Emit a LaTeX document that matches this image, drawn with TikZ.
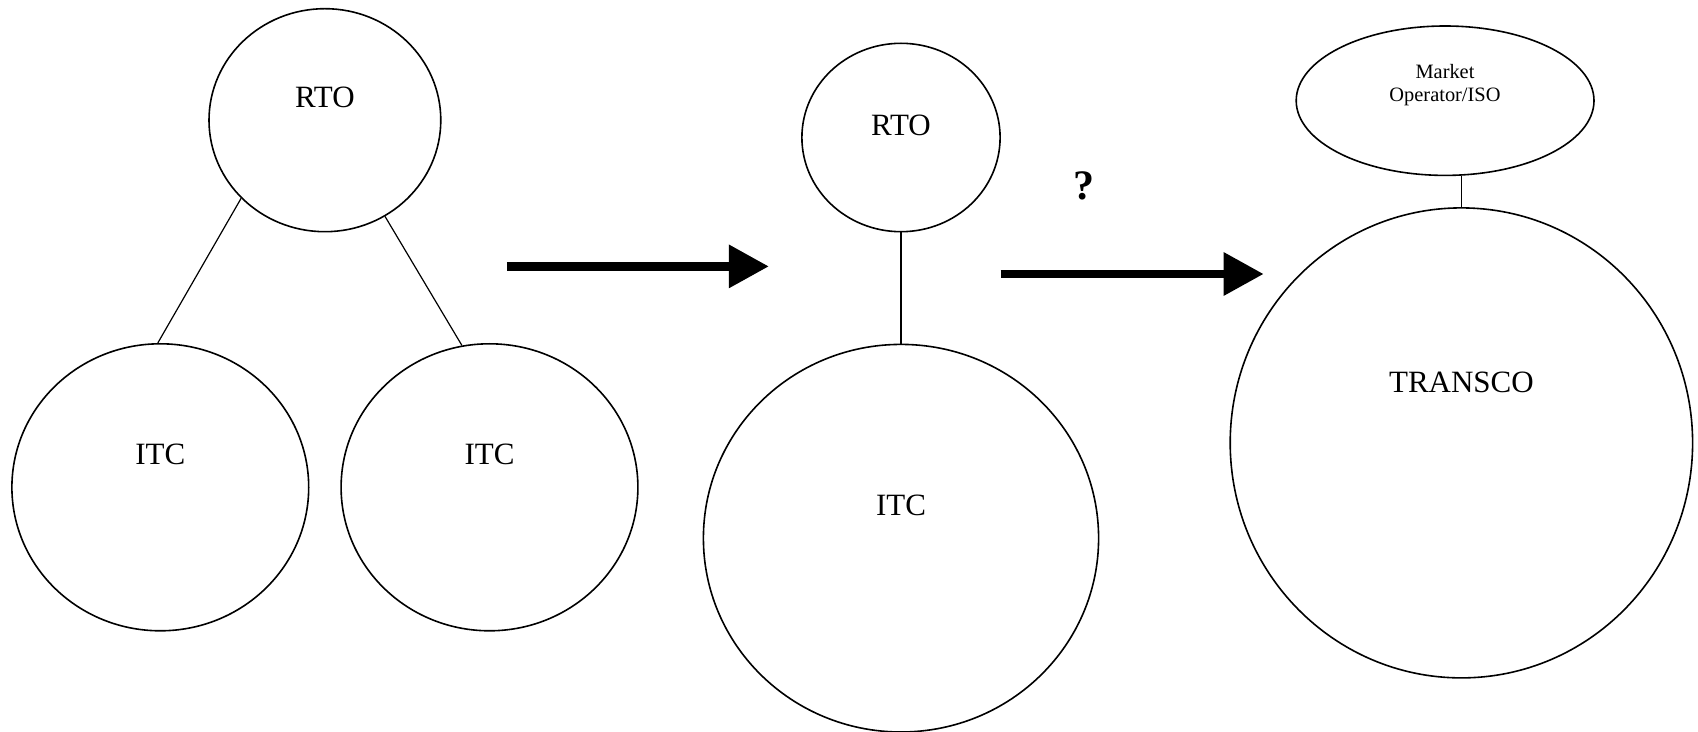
\documentclass[tikz,border=0pt]{standalone}
\usepackage{fontspec}
\setmainfont{Liberation Serif}
\usetikzlibrary{shapes.geometric,arrows.meta}
\begin{document}
\begin{tikzpicture}[x=0.5pt,y=-0.5pt,
  ell/.style={draw, ellipse, inner sep=0pt, line width=0.8pt},
  lbl/.style={inner sep=0pt, font=\fontsize{15.5}{18}\selectfont},
  conn/.style={line width=0.6pt},
  bigarrow/.style={line width=4.35pt, -{Triangle[length=20pt,width=20.6pt]}}]
\useasboundingbox (0,0) rectangle (1698,732);
% left group
\node[ell, minimum width=115.9pt, minimum height=111.5pt] (rto1) at (324.9,120.2) {};
\node[lbl] (rto1t) at (324.9,97.5) {RTO};
\node[ell, minimum width=148.4pt, minimum height=143.5pt] (itcl) at (160.3,487.3) {};
\node[lbl] (itclt) at (160.3,454.8) {ITC};
\node[ell, minimum width=148.4pt, minimum height=143.5pt] (itcr) at (489.5,487.3) {};
\node[lbl] (itcrt) at (489.5,454.8) {ITC};
\draw[conn] (rto1.223.5) -- (itcl.91);
\draw[conn] (rto1.302) -- (itcr.101);
% arrow 1
\coordinate (a1s) at (506.8,266.4);
\coordinate (a1e) at (768.9,266.4);
\draw[bigarrow] (a1s) -- (a1e);
% middle group
\node[ell, minimum width=99.1pt, minimum height=94.2pt] (rto2) at (901,137.5) {};
\node[lbl] (rto2t) at (901,125.5) {RTO};
\node[ell, minimum width=197.6pt, minimum height=193.8pt] (itc2) at (901,538.2) {};
\node[lbl] (itc2t) at (901,505.7) {ITC};
\draw[conn] (rto2.south) -- (itc2.north);
% question mark and arrow 2
\node[inner sep=0pt, font=\fontsize{21}{24}\selectfont\bfseries] (q) at (1083.7,186) {?};
\coordinate (a2s) at (1000.6,274);
\coordinate (a2e) at (1263.7,274);
\draw[bigarrow] (a2s) -- (a2e);
% right group
\node[ell, minimum width=148.9pt, minimum height=74.7pt] (mkt) at (1445.1,100.7) {};
\node[inner sep=0pt, align=center, font=\fontsize{10.2}{11.7}\selectfont] (mktt) at (1445,85) {Market\\Operator/ISO};
\node[ell, minimum width=231.2pt, minimum height=235pt] (transco) at (1461.4,442.9) {};
\node[lbl] (transcot) at (1461.4,382.5) {TRANSCO};
\draw[conn] (transco.north) -- (transco.north |- mkt.south);
\end{tikzpicture}
\end{document}
